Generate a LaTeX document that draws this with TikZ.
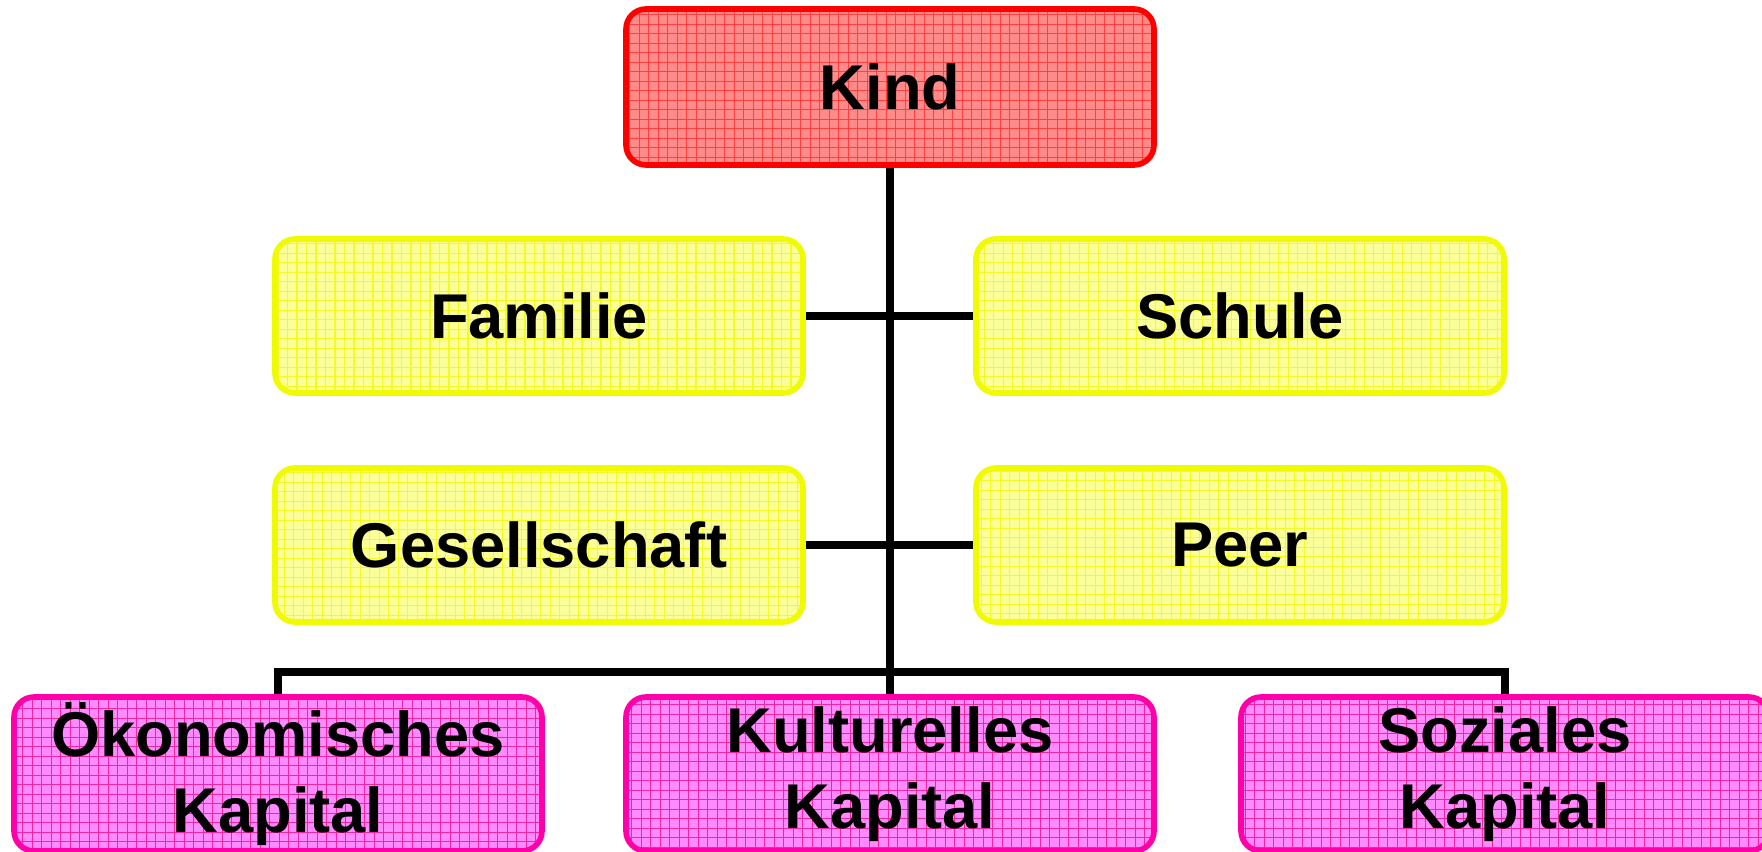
\documentclass[tikz,border=0pt]{standalone}
\usepackage{fontspec}
\setmainfont{Liberation Sans}
\usepackage{tikz}
\definecolor{ink}{HTML}{000000}
\definecolor{kindred}{HTML}{FF0000}
\definecolor{kindfill}{HTML}{FF8A8A}
\definecolor{umweltline}{HTML}{F0FA00}
\definecolor{umweltfill}{HTML}{FAFF9A}
\definecolor{kapitalline}{HTML}{FF00A8}
\definecolor{kapitalfill}{HTML}{FF8AFF}
\usetikzlibrary{positioning, calc}
\tikzset{
  every node/.style={font=\fontsize{18}{21.6}\selectfont\bfseries, text=ink},
  gridfill/.style={
    path picture={
      \draw[#1, line width=0.3pt]
        (path picture bounding box.south west) grid[step=0.095]
        (path picture bounding box.north east);
    }
  },
  block/.style={
    rounded corners=0.2cm,
    line width=1.6pt,
    align=center,
    minimum width=5.28cm,
    minimum height=1.54cm,
    inner sep=0pt
  },
  blockK/.style={block, draw=kindred, fill=kindfill, gridfill=kindred!75},
  blockU/.style={block, draw=umweltline, fill=umweltfill, gridfill=umweltline!85},
  blockC/.style={block, draw=kapitalline, fill=kapitalfill, gridfill=magenta!85},
  link/.style={line width=2.4pt, draw=ink}
}

\begin{document}
\begin{tikzpicture}
  \useasboundingbox (0,0) rectangle (17.62,8.51);

  \node[blockK, minimum height=1.56cm] (kind) at (8.90,7.64) {Kind};

  \node[blockU] (familie) at (5.39,5.35) {Familie};
  \node[blockU] (schule) at (12.40,5.35) {Schule};
  \node[blockU] (gesellschaft) at (5.39,3.06) {Gesellschaft};
  \node[blockU] (peer) at (12.40,3.06) {Peer};

  \node[blockC] (oek) at (2.78,0.77) {Ökonomisches\\Kapital};
  \node[blockC] (kult) at (8.90,0.77) {Kulturelles\\Kapital};
  \node[blockC] (soz) at (15.05,0.77) {Soziales\\Kapital};

  % Verbindungen
  \coordinate (bus) at (8.90,1.79);
  \draw[link] (kind.south) -- (kult.north);
  \draw[link] (familie.east) -- (schule.west);
  \draw[link] (gesellschaft.east) -- (peer.west);
  \draw[link] (oek.north) |- (bus) -| (soz.north);
\end{tikzpicture}
\end{document}
